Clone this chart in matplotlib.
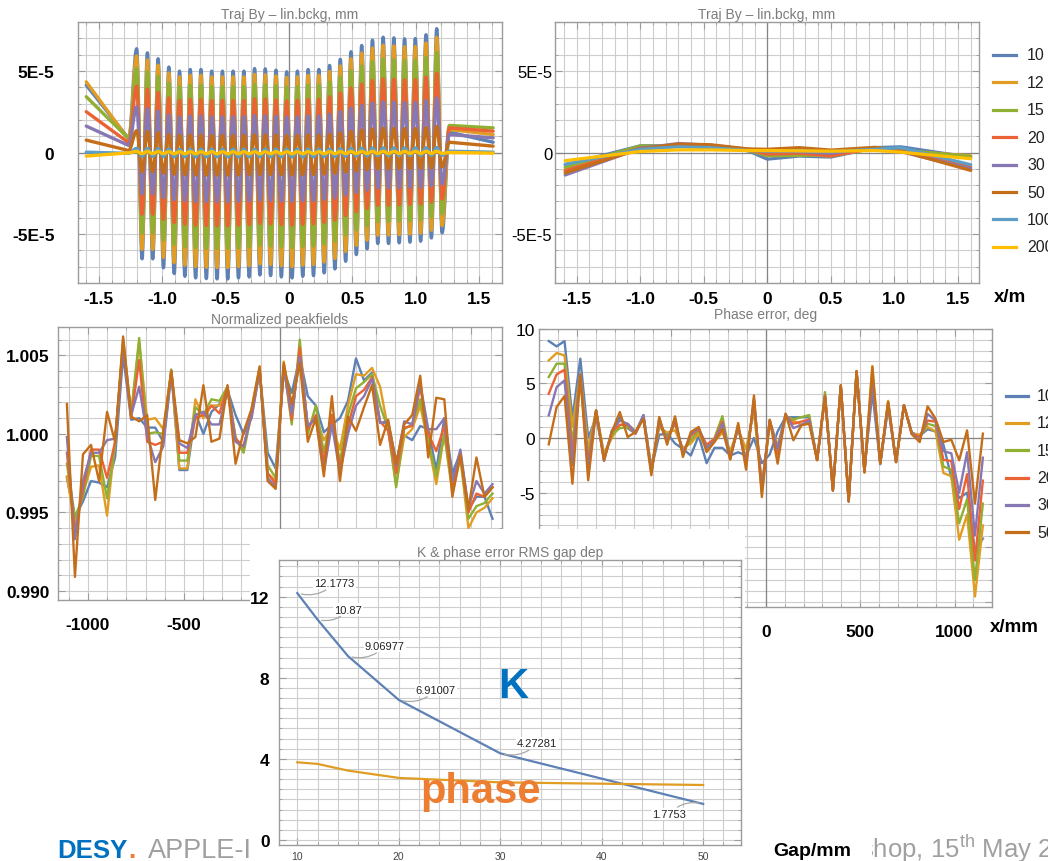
import numpy as np
import matplotlib
matplotlib.use("Agg")
import matplotlib.pyplot as plt
from matplotlib.path import Path
from matplotlib.patches import PathPatch, Polygon
from matplotlib.lines import Line2D

plt.rcParams['font.family'] = ['Liberation Sans', 'DejaVu Sans']
plt.rcParams['axes.unicode_minus'] = False

# ---------------------------------------------------------------- data
gaps = [10, 12, 15, 20, 30, 50, 100, 200]
gap_colors = ['#5E81B5', '#E19C24', '#8FB032', '#EB6235',
              '#8778B3', '#C56E1A', '#5D9EC7', '#FFBF00']

# trajectory (units of 1e-5 mm): extrema of the gap-10 orbit, one per half period
traj_peaks_gap10 = [6.36, 6.11, 5.75, 5.24, 4.99, 5.09, 5.09, 4.99, 4.99, 4.99,
                    4.99, 5.15, 5.13, 5.05, 4.95, 4.99, 5.09, 5.09, 5.34, 5.71,
                    6.18, 6.56, 6.89, 7.07, 7.03, 6.97, 6.99, 7.22, 7.59]
traj_troughs_gap10 = [-6.52, -6.52, -7.07, -7.42, -7.59, -7.69, -7.73, -7.75, -7.75, -7.69,
                      -7.63, -7.51, -7.55, -7.63, -7.69, -7.59, -7.55, -7.38, -7.14, -6.67,
                      -6.26, -5.91, -5.58, -5.58, -5.54, -5.50, -5.44, -5.24, -4.93]
# oscillation amplitude of each gap relative to gap 10
traj_peak_ratio = [1.0, 0.93, 0.81, 0.64, 0.44, 0.21, 0.04, 0.01]
traj_trough_ratio = [1.0, 0.91, 0.76, 0.58, 0.39, 0.18, 0.035, 0.01]
# drift sections outside the magnet (units of 1e-5 mm)
traj_left_start = [4.13, 4.33, 3.42, 2.50, 1.62, 0.76, 0.02, -0.22]
traj_left_knee = [0.85, 0.80, 0.85, 0.60, 0.43, 0.12, -0.05, -0.02]
traj_right_start = [1.25, 1.41, 1.66, 1.51, 1.10, 0.63, 0.08, 0.0]
traj_right_end = [0.63, 1.10, 1.51, 1.31, 0.90, 0.39, 0.02, -0.04]
traj_first_peak_m = -1.202
traj_half_period_m = 0.04227

# trajectory after linear background removal (units of 1e-5 mm)
lin_x = [-1.59, -1.0, -0.7, -0.45, -0.15, 0.0, 0.25, 0.5, 0.85, 1.05, 1.6]
lin_traj = {
    10:  [-0.76, 0.41, 0.42, 0.38, 0.10, -0.41, -0.22, -0.28, 0.30, 0.35, -0.30],
    12:  [-1.10, 0.30, 0.48, 0.40, 0.18, -0.05, -0.10, -0.22, 0.28, 0.10, -0.20],
    15:  [-0.92, 0.40, 0.40, 0.35, 0.12, -0.20, -0.18, -0.15, 0.30, 0.15, -0.25],
    20:  [-1.12, 0.28, 0.45, 0.40, 0.15, -0.10, -0.05, -0.20, 0.28, 0.10, -0.90],
    30:  [-1.38, 0.25, 0.55, 0.45, 0.20, 0.10, 0.05, -0.05, 0.30, 0.05, -1.00],
    50:  [-1.25, 0.22, 0.52, 0.48, 0.22, 0.20, 0.30, 0.15, 0.32, 0.10, -1.10],
    100: [-0.72, 0.20, 0.35, 0.30, 0.12, 0.08, 0.10, 0.05, 0.20, 0.30, -0.75],
    200: [-0.50, 0.06, 0.16, 0.16, 0.12, 0.12, 0.10, 0.08, 0.12, 0.02, -0.38],
}

# normalized peak fields, pole positions in mm
pf_x_start, pf_x_end, pf_count = -1110, 1110, 54
peakfields = {
    10: [0.9972, 0.9947, 0.9957, 0.9970, 0.9969, 0.9966, 0.9985, 1.0050, 1.0009, 1.0010,
         1.0004, 1.0004, 0.9995, 1.0040, 0.9977, 0.9977, 1.0013, 1.0000, 1.0014, 1.0019,
         1.0028, 1.0012, 1.0000, 1.0010, 1.0040, 0.9988, 0.9978, 1.0040, 1.0026, 1.0049,
         1.0024, 1.0018, 1.0001, 1.0006, 1.0010, 1.0021, 1.0048, 1.0034, 1.0039, 1.0007,
         1.0007, 0.9983, 0.9999, 0.9996, 1.0005, 1.0003, 0.9977, 1.0010, 0.9975, 0.9988,
         0.9952, 0.9960, 0.9960, 0.9946],
    12: [0.9973, 0.9943, 0.9962, 0.9979, 0.9980, 0.9948, 0.9995, 1.0058, 1.0012, 1.0058,
         1.0009, 1.0010, 1.0003, 1.0040, 0.9978, 0.9978, 1.0022, 1.0010, 1.0018, 1.0018,
         1.0028, 0.9996, 0.9990, 1.0016, 1.0042, 0.9975, 0.9970, 1.0046, 1.0012, 1.0052,
         1.0005, 1.0010, 0.9996, 1.0005, 0.9990, 1.0018, 1.0038, 1.0037, 1.0042, 1.0030,
         1.0003, 0.9968, 0.9998, 1.0003, 1.0018, 0.9994, 0.9968, 1.0000, 0.9962, 0.9985,
         0.9940, 0.9950, 0.9953, 0.9959],
    15: [0.9981, 0.9947, 0.9960, 0.9986, 0.9986, 0.9959, 0.9993, 1.0060, 1.0013, 1.0061,
         1.0000, 1.0001, 1.0000, 1.0041, 0.9983, 0.9983, 1.0017, 1.0012, 1.0022, 1.0021,
         1.0030, 0.9998, 0.9988, 1.0013, 1.0041, 0.9980, 0.9972, 1.0043, 1.0006, 1.0060,
         1.0000, 1.0018, 0.9988, 1.0012, 0.9982, 1.0012, 1.0029, 1.0033, 1.0038, 1.0018,
         1.0003, 0.9966, 1.0003, 1.0006, 1.0022, 0.9996, 0.9973, 1.0000, 0.9965, 0.9985,
         0.9946, 0.9954, 0.9956, 0.9962],
    20: [0.9988, 0.9938, 0.9964, 0.9990, 0.9990, 0.9972, 0.9995, 1.0056, 1.0010, 1.0047,
         0.9995, 0.9993, 0.9995, 1.0040, 0.9988, 0.9988, 1.0010, 1.0012, 1.0018, 1.0013,
         1.0030, 0.9997, 0.9992, 1.0012, 1.0041, 0.9975, 0.9968, 1.0043, 1.0009, 1.0055,
         1.0003, 1.0012, 0.9982, 1.0012, 0.9978, 1.0005, 1.0024, 1.0028, 1.0036, 1.0008,
         1.0002, 0.9975, 1.0004, 1.0005, 1.0030, 1.0000, 0.9989, 1.0005, 0.9967, 0.9987,
         0.9950, 0.9962, 0.9960, 0.9966],
    30: [0.9998, 0.9933, 0.9970, 0.9988, 0.9988, 0.9996, 0.9997, 1.0055, 1.0012, 1.0030,
         0.9999, 0.9982, 0.9992, 1.0038, 0.9994, 0.9991, 1.0012, 1.0014, 1.0006, 1.0006,
         1.0028, 0.9995, 0.9992, 1.0013, 1.0041, 0.9972, 0.9966, 1.0042, 1.0013, 1.0049,
         1.0005, 1.0010, 0.9976, 1.0006, 0.9975, 1.0000, 1.0018, 1.0024, 1.0035, 1.0007,
         1.0008, 0.9980, 1.0008, 1.0006, 1.0032, 1.0003, 1.0003, 1.0010, 0.9970, 0.9990,
         0.9953, 0.9970, 0.9962, 0.9968],
    50: [1.0019, 0.9909, 0.9987, 0.9993, 0.9970, 1.0014, 0.9995, 1.0062, 1.0011, 1.0008,
         1.0012, 0.9958, 1.0002, 1.0040, 0.9996, 0.9994, 0.9998, 1.0031, 0.9995, 0.9997,
         1.0031, 0.9981, 1.0001, 1.0016, 1.0043, 0.9970, 0.9965, 1.0045, 1.0019, 1.0045,
         0.9995, 1.0010, 0.9973, 1.0024, 0.9970, 1.0011, 1.0002, 1.0017, 1.0031, 0.9993,
         1.0009, 0.9981, 1.0006, 1.0012, 1.0037, 0.9985, 1.0023, 1.0022, 0.9960, 0.9987,
         0.9952, 0.9985, 0.9960, 0.9966],
}

# phase error in degrees, pole positions in mm
ph_x_start, ph_x_end, ph_count = -1150, 1150, 56
phase_err = {
    10: [8.87, 8.38, 8.87, 1.8, 7.26, 0.0, 1.9, -1.6, 0.3, 1.9,
         0.9, 0.4, 2.1, -2.9, 0.3, 0.4, -0.5, -1.0, -1.6, 0.2,
         -2.3, -0.9, -0.9, -1.6, -1.3, -1.6, 0.0, -2.3, -1.5, 0.6,
         1.9, 1.9, 1.9, 1.9, -2.0, 3.8, -4.6, 4.7, -5.6, 6.0,
         -2.8, 4.2, -2.4, 2.8, -2.2, 3.0, 0.5, 0.2, 0.8, 0.6,
         -0.6, -3.6, -5.5, -5.0, -10.3, -9.2],
    12: [7.10, 7.77, 7.56, 1.0, 5.9, -1.0, 2.5, -1.4, 0.0, 1.2,
         1.3, 0.6, 1.9, -2.6, 1.0, 0.5, 0.7, -0.9, -0.5, 0.4,
         -1.0, -0.3, 0.5, -1.2, 0.8, -1.0, 2.5, -5.0, 1.6, -0.7,
         2.0, 1.6, 1.2, 1.5, -2.0, 3.9, -4.8, 4.8, -5.8, 6.1,
         -3.1, 6.6, -2.3, 3.4, -2.2, 3.0, 0.4, 0.3, 1.0, 0.6,
         -3.2, -3.5, -9.3, -7.0, -14.5, -8.0],
    15: [5.58, 6.80, 6.80, -0.5, 5.8, -1.8, 2.5, -1.8, 0.3, 0.9,
         1.0, 0.5, 1.8, -2.8, 1.2, 0.0, 1.3, -1.2, -0.2, 0.7,
         -0.8, 0.0, 2.0, -1.7, 0.9, -1.9, 3.2, -4.6, 1.6, -1.3,
         2.0, 1.7, 1.9, 2.1, -2.0, 4.2, -4.8, 4.8, -5.8, 6.1,
         -3.1, 5.9, -2.3, 3.3, -2.2, 3.0, 0.4, 0.1, 1.3, 1.1,
         -2.6, -2.9, -7.8, -5.6, -13.0, -6.0],
    20: [4.05, 5.82, 6.25, -1.5, 5.8, -2.3, 2.5, -2.0, 0.6, 1.2,
         1.2, 0.4, 1.9, -3.0, 1.5, -0.3, 1.5, -1.4, 0.2, 0.8,
         -0.6, -0.1, 1.5, -1.8, 1.0, -2.2, 3.4, -4.4, 1.6, -1.5,
         2.1, 1.3, 1.5, 1.7, -2.0, 3.9, -4.8, 4.8, -5.8, 6.1,
         -3.1, 5.4, -2.3, 3.2, -2.2, 3.0, 0.4, 0.1, 1.6, 1.5,
         -2.0, -2.1, -6.5, -3.3, -11.2, -3.9],
    30: [2.07, 4.66, 5.27, -2.5, 5.8, -3.0, 2.5, -2.1, 0.7, 1.6,
         1.3, 0.5, 2.1, -3.2, 1.8, -0.4, 1.8, -1.5, 0.4, 0.9,
         -0.9, -0.3, 1.3, -1.9, 1.1, -2.5, 3.6, -4.8, 1.6, -1.0,
         2.2, 0.9, 1.2, 1.6, -2.0, 3.8, -4.8, 4.8, -5.8, 6.1,
         -3.1, 5.0, -2.3, 3.0, -2.2, 3.0, 0.4, -0.2, 2.2, 1.6,
         -1.2, -1.4, -5.0, -1.3, -8.9, -1.8],
    50: [-0.58, 2.84, 3.84, -4.18, 5.73, -3.87, 2.53, -2.04, 0.55, 2.38,
         0.09, 0.55, 1.77, -3.41, 1.92, -0.61, 1.98, -1.74, 0.55, 1.01,
         -1.28, -0.37, 0.85, -1.98, 1.37, -2.90, 3.90, -5.40, 1.68, -2.35,
         2.23, -0.21, 1.16, 1.31, -2.04, 3.75, -4.79, 4.82, -5.79, 6.13,
         -3.17, 6.49, -2.35, 3.29, -2.20, 2.99, 0.34, -0.37, 2.90, 1.77,
         -0.37, -0.15, -2.04, 0.70, -6.00, 0.40],
}

# RMS values versus gap
rms_gap = [10, 12, 15, 20, 30, 50]
rms_k = [12.1773, 10.87, 9.06977, 6.91007, 4.27281, 1.7753]
rms_phase = [3.83, 3.75, 3.42, 3.06, 2.84, 2.71]

# ---------------------------------------------------------------- figure
W, H = 1048, 862
fig = plt.figure(figsize=(W / 100, H / 100), dpi=100)
fig.patch.set_facecolor('white')

GRID = '#cdcdcd'
FRAME = '#9c9c9c'
AXIS0 = '#858585'
TITLE = '#7c7c7c'


def px_axes(x0, y0, x1, y1, **kw):
    return fig.add_axes([x0 / W, 1 - y1 / H, (x1 - x0) / W, (y1 - y0) / H], **kw)


def fx(x):
    return x / W


def fy(y):
    return 1 - y / H


def style_panel(ax, xminor, yminor, xmajor, ymajor):
    ax.set_xticks(xmajor)
    ax.set_yticks(ymajor)
    ax.set_xticks(xminor, minor=True)
    ax.set_yticks(yminor, minor=True)
    ax.grid(True, which='both', color=GRID, lw=0.8)
    ax.set_axisbelow(True)
    ax.tick_params(which='both', direction='in', top=True, right=True, color=FRAME)
    ax.tick_params(which='major', length=5, width=0.8)
    ax.tick_params(which='minor', length=2.5, width=0.6)
    for s in ax.spines.values():
        s.set_color(FRAME)
        s.set_linewidth(1.0)


def smooth_path(xs, ys):
    """Straight first/last segments, smooth half-wave arcs between extrema."""
    verts = [(xs[0], ys[0])]
    codes = [Path.MOVETO]
    n = len(xs)
    for i in range(1, n):
        x0, y0, x1, y1 = xs[i - 1], ys[i - 1], xs[i], ys[i]
        if i == 1 or i == n - 1:
            verts.append((x1, y1))
            codes.append(Path.LINETO)
        else:
            d = (x1 - x0) * 0.36
            verts += [(x0 + d, y0), (x1 - d, y1), (x1, y1)]
            codes += [Path.CURVE4] * 3
    return Path(verts, codes)


traj_xminor = np.round(np.arange(-16, 17) * 0.1, 2)
traj_yminor = np.arange(-8, 9) * 1e-5
traj_xmajor = [-1.5, -1.0, -0.5, 0, 0.5, 1.0, 1.5]
traj_xlabels = ['-1.5', '-1.0', '-0.5', '0', '0.5', '1.0', '1.5']
traj_ymajor = [-5e-5, 0, 5e-5]
traj_ylabels = ['-5E-5', '0', '5E-5']

# ---- top left: raw trajectories
ax1 = px_axes(78, 23, 502, 284)
style_panel(ax1, traj_xminor, traj_yminor, traj_xmajor, traj_ymajor)
ax1.set_xlim(-1.665, 1.68)
ax1.set_ylim(-8.0e-5, 8.0e-5)
ax1.axhline(0, color=AXIS0, lw=0.9, zorder=1)
ax1.axvline(0, color=AXIS0, lw=0.9, zorder=1)
n_ext = 2 * len(traj_peaks_gap10)
ext_x = list(traj_first_peak_m + np.arange(n_ext) * traj_half_period_m)
for k, g in enumerate(gaps):
    ext_y = []
    for p, t in zip(traj_peaks_gap10, traj_troughs_gap10):
        ext_y += [p * traj_peak_ratio[k], t * traj_trough_ratio[k]]
    xs = [-1.60, -1.265] + ext_x + [1.265, 1.61]
    ys = [traj_left_start[k], traj_left_knee[k]] + ext_y + [traj_right_start[k], traj_right_end[k]]
    ys = [v * 1e-5 for v in ys]
    patch = PathPatch(smooth_path(xs, ys), facecolor='none', edgecolor=gap_colors[k],
                      lw=2.4, capstyle='round', joinstyle='round', zorder=2 + k * 0.01)
    ax1.add_patch(patch)
ax1.set_xticklabels(traj_xlabels, fontweight='bold', fontsize=12.5)
ax1.set_yticklabels(traj_ylabels, fontweight='bold', fontsize=12.5)
ax1.tick_params(axis='y', which='major', pad=17)
ax1.tick_params(axis='x', which='major', pad=6)
ax1.set_title('Traj By \u2013 lin.bckg, mm', color=TITLE, fontsize=10, pad=3)

# ---- top right: trajectories with linear background removed
ax2 = px_axes(555, 23, 979, 284)
style_panel(ax2, traj_xminor, traj_yminor, traj_xmajor, traj_ymajor)
ax2.set_xlim(-1.67, 1.665)
ax2.set_ylim(-8.0e-5, 8.0e-5)
ax2.axhline(0, color=AXIS0, lw=0.9, zorder=1)
ax2.axvline(0, color=AXIS0, lw=0.9, zorder=1)
for k, g in enumerate(gaps):
    ax2.plot(lin_x, [v * 1e-5 for v in lin_traj[g]], color=gap_colors[k], lw=2.3,
             solid_joinstyle='round', solid_capstyle='round', zorder=2 + k * 0.01)
ax2.set_xticklabels(traj_xlabels, fontweight='bold', fontsize=12.5)
ax2.set_yticklabels(traj_ylabels, fontsize=12)
ax2.tick_params(axis='y', which='major', pad=2)
ax2.tick_params(axis='x', which='major', pad=6)
ax2.set_title('Traj By \u2013 lin.bckg, mm', color=TITLE, fontsize=10, pad=3)

# legend of the top row
for k, g in enumerate(gaps):
    yy = 56 + 27.4 * k
    fig.add_artist(Line2D([fx(993), fx(1016)], [fy(yy), fy(yy)], color=gap_colors[k],
                          lw=2.3, transform=fig.transFigure))
    fig.text(fx(1027), fy(yy), str(g), fontsize=11.5, va='center', ha='left', color='#222222')
fig.text(fx(994), fy(297), 'x/m', fontsize=13.5, fontweight='bold', va='center', ha='left')

# ---- middle left: normalized peak fields
ax3 = px_axes(57.7, 327.7, 501.7, 601)
pf_x = np.linspace(pf_x_start, pf_x_end, pf_count)
style_panel(ax3, np.arange(-1100, 1101, 100), np.round(np.arange(0.989, 1.0071, 0.001), 3),
            [-1000, -500, 0, 500, 1000], [0.990, 0.995, 1.000, 1.005])
ax3.set_xlim(-1158, 1158)
ax3.set_ylim(0.98943, 1.00682)
ax3.axvline(0, color=AXIS0, lw=0.9, zorder=1)
for k, g in enumerate(gaps[:6]):
    ax3.plot(pf_x, peakfields[g], color=gap_colors[k], lw=1.7, zorder=2 + k * 0.01)
# labels to the right of -500 sit behind the RMS chart
ax3.set_xticklabels(['-1000', '-500', '', '', ''], fontweight='bold', fontsize=12.5)
ax3.set_yticklabels(['0.990', '0.995', '1.000', '1.005'], fontweight='bold', fontsize=12.5)
ax3.tick_params(axis='y', which='major', pad=6)
ax3.tick_params(axis='x', which='major', pad=12)
ax3.set_title('Normalized peakfields', color=TITLE, fontsize=10, pad=3)

# ---- middle right: phase error
ax4 = px_axes(539.3, 329.7, 992.3, 608)
ph_x = np.linspace(ph_x_start, ph_x_end, ph_count)
style_panel(ax4, np.arange(-1200, 1201, 100), np.arange(-15, 11, 1),
            [-1000, -500, 0, 500, 1000], [-15, -10, -5, 0, 5, 10])
ax4.set_xlim(-1200, 1200)
ax4.set_ylim(-15.46, 10)
ax4.axhline(0, color=AXIS0, lw=0.9, zorder=1)
ax4.axvline(0, color=AXIS0, lw=0.9, zorder=1)
for k, g in enumerate(gaps[:6]):
    ax4.plot(ph_x, phase_err[g], color=gap_colors[k], lw=1.7, zorder=2 + k * 0.01)
# the lower left part of this panel lies behind the RMS chart
ax4.set_xticklabels(['', '', '0', '500', '1000'], fontweight='bold', fontsize=12.5)
ax4.set_yticklabels(['', '', '-5', '0', '5', '10'], fontsize=12.5)
ax4.tick_params(axis='y', which='major', pad=3)
ax4.tick_params(axis='x', which='major', pad=12)
ax4.set_title('Phase error, deg', color=TITLE, fontsize=10, pad=8)

for k, g in enumerate(gaps[:6]):
    yy = 396.7 + 27.3 * k
    fig.add_artist(Line2D([fx(1006), fx(1028)], [fy(yy), fy(yy)], color=gap_colors[k],
                          lw=2.3, transform=fig.transFigure))
    fig.text(fx(1037), fy(yy), str(g), fontsize=11.5, va='center', ha='left', color='#222222')
fig.text(fx(990), fy(627), 'x/mm', fontsize=13.5, fontweight='bold', va='center', ha='left')

# ---- footer line of the slide
fig.text(fx(57), fy(858), 'DESY', color='#0070C0', fontweight='bold', fontsize=18.5,
         va='baseline', ha='left', zorder=3)
fig.text(fx(128), fy(858), '.', color='#ED7D31', fontweight='bold', fontsize=18.5,
         va='baseline', ha='left', zorder=3)
fig.text(fx(148), fy(858), 'APPLE-II', color='#A0A0A0', fontsize=19.5,
         va='baseline', ha='left', zorder=3)
fig.text(fx(860), fy(858), 'shop, 15$^{\\mathregular{th}}$ May 2018', color='#A0A0A0',
         fontsize=18.5, va='baseline', ha='left', zorder=3)

# white backing of the RMS chart
box_px = [(250, 530), (745, 530), (745, 640), (872, 640), (872, 862), (250, 862)]
fig.add_artist(Polygon([(fx(x), fy(y)) for x, y in box_px], closed=True,
                       facecolor='white', edgecolor='none', transform=fig.transFigure,
                       zorder=5))

# ---- inset: K and phase error RMS vs gap
ax5 = px_axes(279.3, 561, 740.7, 846, zorder=6)
style_panel(ax5, np.arange(8, 55, 2), np.round(np.arange(0, 14.01, 0.5), 1),
            [10, 20, 30, 40, 50], [0, 4, 8, 12])
ax5.set_xlim(8.23, 53.7)
ax5.set_ylim(-0.25, 13.81)
ax5.plot(rms_gap, rms_k, color='#5E81B5', lw=1.6, zorder=3)
ax5.plot(rms_gap, rms_phase, color='#E19C24', lw=1.6, zorder=3)
ax5.set_xticklabels(['10', '20', '30', '40', '50'], fontsize=7.5, color='#444444')
ax5.set_yticklabels(['0', '4', '8', '12'], fontweight='bold', fontsize=12.5)
ax5.tick_params(axis='y', which='major', pad=7)
ax5.tick_params(axis='x', which='major', pad=4)
ax5.set_title('K & phase error RMS gap dep', color=TITLE, fontsize=10, pad=3)
for i, (g, kv) in enumerate(zip(rms_gap, rms_k)):
    label = f'{kv:g}'
    if i < len(rms_gap) - 1:
        off, ha, rad = (17, 10), 'left', -0.3
    else:
        off, ha, rad = (-17, -10), 'right', -0.3
    ax5.annotate(label, xy=(g, kv), xytext=off, textcoords='offset pixels',
                 fontsize=8, ha=ha, va='center', color='#222222',
                 bbox=dict(boxstyle='square,pad=0.1', fc='white', ec='none'),
                 arrowprops=dict(arrowstyle='-', color='#a8a8a8', lw=0.9,
                                 shrinkA=1, shrinkB=3,
                                 connectionstyle=f'arc3,rad={rad}'),
                 zorder=4)

fig.text(fx(498), fy(698), 'K', color='#0070C0', fontweight='bold', fontsize=30,
         va='baseline', ha='left', zorder=10)
fig.text(fx(420), fy(803), 'phase', color='#ED7D31', fontweight='bold', fontsize=30,
         va='baseline', ha='left', zorder=10)
fig.text(fx(812), fy(852), 'Gap/mm', fontweight='bold', fontsize=14,
         va='center', ha='center', zorder=10)

fig.savefig('out.png', dpi=100, facecolor='white')
